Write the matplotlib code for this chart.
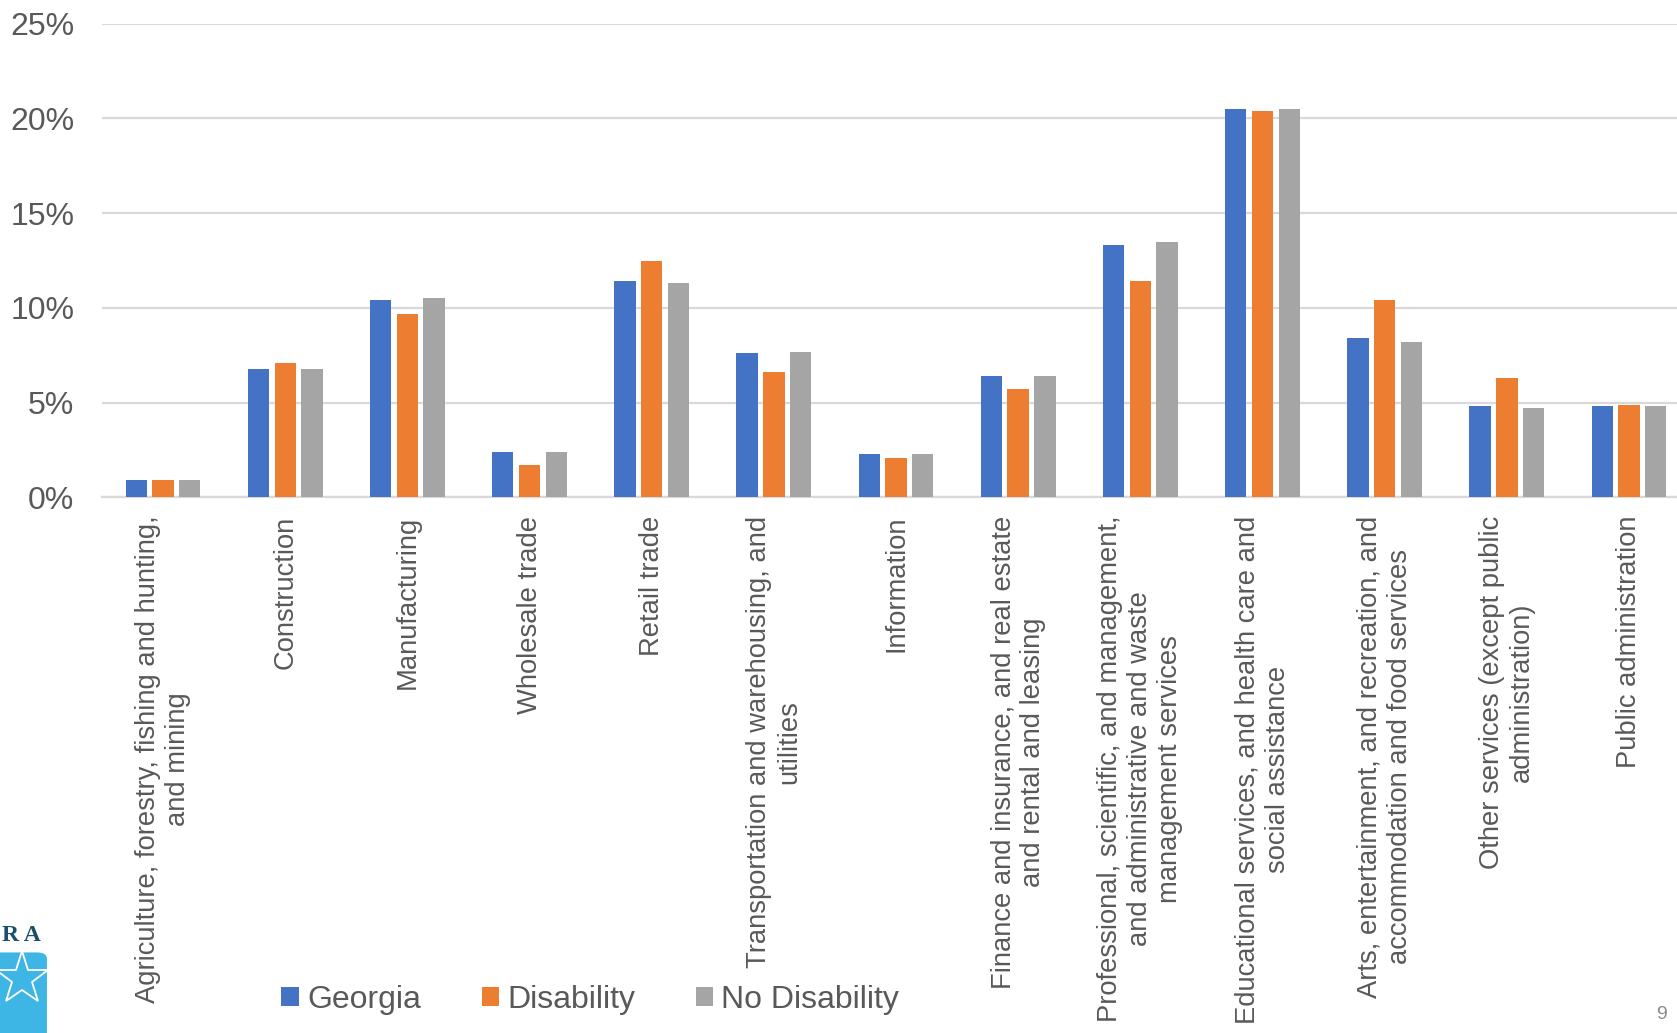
import matplotlib
matplotlib.use("Agg")
import matplotlib.pyplot as plt
import numpy as np
from matplotlib.patches import Patch, FancyBboxPatch
from matplotlib.lines import Line2D

plt.rcParams['font.family'] = ['Liberation Sans', 'DejaVu Sans']

# industry categories (x axis)
categories = [
    "Agriculture, forestry, fishing and hunting,\nand mining",
    "Construction",
    "Manufacturing",
    "Wholesale trade",
    "Retail trade",
    "Transportation and warehousing, and\nutilities",
    "Information",
    "Finance and insurance, and real estate\nand rental and leasing",
    "Professional, scientific, and management,\nand administrative and waste\nmanagement services",
    "Educational services, and health care and\nsocial assistance",
    "Arts, entertainment, and recreation, and\naccommodation and food services",
    "Other services (except public\nadministration)",
    "Public administration",
]

# share of employed workers, percent
georgia = [0.9, 6.8, 10.4, 2.4, 11.4, 7.6, 2.3, 6.4, 13.3, 20.5, 8.4, 4.8, 4.8]
disability = [0.9, 7.1, 9.7, 1.7, 12.5, 6.6, 2.1, 5.7, 11.4, 20.4, 10.4, 6.3, 4.9]
no_disability = [0.9, 6.8, 10.5, 2.4, 11.3, 7.7, 2.3, 6.4, 13.5, 20.5, 8.2, 4.7, 4.8]

series_names = ["Georgia", "Disability", "No Disability"]
colors = ["#4472C4", "#ED7D31", "#A5A5A5"]
y_ticks = [0, 5, 10, 15, 20, 25]

text_grey = "#595959"
grid_grey = "#D9D9D9"

fig = plt.figure(figsize=(16.77, 10.33), dpi=100)
ax = fig.add_axes([0.0608, 0.5184, 0.947, 0.4588])

x = np.arange(len(categories))
bar_w = 0.175
step = 0.219
for k, (vals, col) in enumerate(zip([georgia, disability, no_disability], colors)):
    ax.bar(x + (k - 1) * step, vals, width=bar_w, color=col, zorder=3)

ax.set_xlim(-0.5, len(categories) - 0.5)
ax.set_ylim(0, 25)
ax.set_yticks(y_ticks)
ax.set_yticklabels([f"{v}%" for v in y_ticks], fontsize=23, color=text_grey)
ax.yaxis.grid(True, color=grid_grey, linewidth=1.6, zorder=0)
ax.set_axisbelow(True)

ax.set_xticks(x)
ax.set_xticklabels(categories, rotation=90, ha='center', va='top',
                   multialignment='center', fontsize=19.7, color=text_grey,
                   linespacing=1.2)
ax.tick_params(axis='both', length=0)
ax.tick_params(axis='x', pad=13)
ax.tick_params(axis='y', pad=20)

for s in ['top', 'right', 'left']:
    ax.spines[s].set_visible(False)
ax.spines['bottom'].set_color(grid_grey)
ax.spines['bottom'].set_linewidth(1.6)

# legend at the bottom
handles = [Patch(facecolor=c, edgecolor='none') for c in colors]
fig.legend(handles, series_names, loc='center', bbox_to_anchor=(0.352, 0.032),
           ncol=3, frameon=False, fontsize=23, labelcolor=text_grey,
           handlelength=0.55, handleheight=0.55, handletextpad=0.25,
           columnspacing=1.9)

# logo fragment in the corner
fig.patches.append(FancyBboxPatch((-0.02, -0.02), 0.048, 0.098,
                                  boxstyle="round,pad=0,rounding_size=0.006",
                                  transform=fig.transFigure, facecolor="#3DB6E6",
                                  edgecolor='none', zorder=1))
fig.lines.append(Line2D([0.013], [0.052], marker='*', markersize=40,
                        markerfacecolor='none', markeredgecolor='white',
                        markeredgewidth=1.3, transform=fig.transFigure, zorder=2))
fig.text(0.001, 0.094, "R A", fontsize=17, fontweight='bold', family='Liberation Serif',
         color="#1B4F6B", ha='left', va='center')

# page number
fig.text(0.991, 0.01, "9", fontsize=14, color="#8C8C8C", ha='center', va='bottom')

fig.savefig("out.png", dpi=100)
